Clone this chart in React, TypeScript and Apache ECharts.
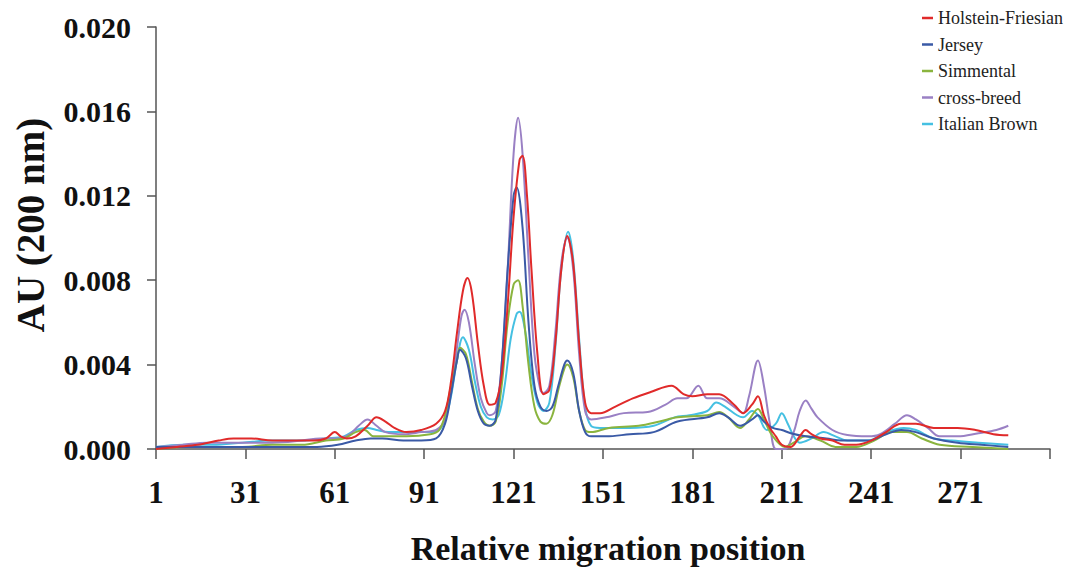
import React, { useEffect, useRef } from "react";
import * as echarts from "echarts";

const seriesNames = ["Holstein-Friesian", "Jersey", "Simmental", "cross-breed", "Italian Brown"];
const seriesColors = ["#e02a2a", "#3a5aa6", "#8ab43e", "#9a80c4", "#45c0e2"];

const yTicks = [0, 0.004, 0.008, 0.012, 0.016, 0.02];
const xTickStart = 1;
const xTickStep = 30;
const xEnd = 301;

const holstein: [number, number][] = [
  [1, 0.0], [8, 0.0001], [15, 0.0002], [22, 0.0004], [27, 0.0005], [33, 0.0005], [40, 0.0004], [48, 0.0004],
  [54, 0.0004], [58, 0.0005], [61, 0.0008], [63, 0.0006], [65, 0.0005], [68, 0.0006], [72, 0.0011], [75, 0.0015],
  [78, 0.0013], [81, 0.001], [85, 0.0008], [90, 0.0009], [95, 0.0012], [98, 0.0018], [100, 0.0032], [102, 0.0055],
  [104, 0.0075], [105.5, 0.0081], [107, 0.0074], [109, 0.005], [111, 0.003], [113, 0.0021], [115, 0.0022],
  [117, 0.0035], [119, 0.0068], [121, 0.011], [123, 0.0137], [124, 0.0139], [125.5, 0.012], [127, 0.0085],
  [129, 0.0045], [131, 0.0026], [133, 0.0028], [135, 0.005], [137, 0.0085], [139, 0.0101], [141, 0.0088],
  [143, 0.005], [145, 0.0022], [147, 0.0017], [150, 0.0017], [155, 0.002], [161, 0.0024], [167, 0.0027],
  [174, 0.003], [178, 0.0026], [181, 0.0025], [186, 0.0026], [190, 0.0026], [195, 0.0021], [198, 0.0017],
  [201, 0.0021], [203, 0.0025], [205, 0.0016], [207, 0.001], [209, 0.0006], [211, 0.0002], [214, 0.0001],
  [217, 0.0006], [219, 0.0009], [221, 0.0007], [224, 0.0005], [228, 0.0004], [232, 0.0002], [236, 0.0002],
  [241, 0.0004], [246, 0.0008], [251, 0.0012], [256, 0.0012], [262, 0.001], [270, 0.001], [276, 0.0009],
  [282, 0.0007], [287, 0.00065],
];

const jersey: [number, number][] = [
  [1, 0.0001], [15, 0.0001], [30, 0.0001], [45, 0.0001], [55, 0.0001], [62, 0.0002], [68, 0.0004], [73, 0.0005],
  [77, 0.0005], [84, 0.0004], [90, 0.0004], [95, 0.0005], [98, 0.0012], [100, 0.0026], [102, 0.0042],
  [103, 0.0047], [105, 0.0043], [107, 0.003], [109, 0.0018], [111, 0.0012], [113, 0.0011], [115, 0.0014],
  [117, 0.004], [119, 0.0085], [121, 0.012], [122, 0.0124], [124, 0.0105], [126, 0.006], [128, 0.003],
  [130, 0.002], [132, 0.0018], [134, 0.002], [136, 0.003], [138, 0.004], [139, 0.0042], [141, 0.0036],
  [143, 0.0018], [145, 0.0008], [147, 0.0006], [152, 0.0006], [160, 0.0007], [168, 0.0008], [176, 0.0013],
  [186, 0.0015], [190, 0.0017], [193, 0.0015], [197, 0.0011], [201, 0.0014], [203, 0.0016], [205, 0.0013],
  [208, 0.001], [211, 0.0009], [214, 0.00075], [219, 0.0006], [226, 0.0005], [231, 0.0004], [240, 0.0004],
  [246, 0.0007], [251, 0.0009], [256, 0.0008], [262, 0.0005], [270, 0.0003], [278, 0.0002], [287, 0.0001],
];

const simmental: [number, number][] = [
  [1, 0.0], [10, 0.0001], [20, 0.0001], [30, 0.0001], [40, 0.0002], [50, 0.0002], [58, 0.0004], [64, 0.0005],
  [68, 0.0008], [71, 0.0009], [74, 0.0006], [78, 0.0006], [85, 0.0006], [93, 0.0007], [96, 0.0009],
  [98, 0.0016], [100, 0.003], [102, 0.0042], [103, 0.0048], [105, 0.0045], [107, 0.0032], [109, 0.0019],
  [111, 0.0013], [113, 0.0011], [115, 0.0013], [117, 0.003], [119, 0.006], [121, 0.0078], [122.5, 0.008],
  [124, 0.0068], [126, 0.004], [128, 0.002], [130, 0.0013], [132, 0.0012], [134, 0.0016], [136, 0.0028],
  [138, 0.0038], [139, 0.004], [141, 0.0034], [143, 0.0018], [145, 0.0009], [147, 0.0008], [153, 0.001],
  [163, 0.0011], [170, 0.0013], [176, 0.0015], [186, 0.0016], [190, 0.00175], [193, 0.0015], [197, 0.001],
  [200, 0.0014], [203, 0.0019], [205, 0.0014], [208, 0.0006], [212, 0.0001], [215, 0.0003], [219, 0.0006],
  [224, 0.0004], [229, 0.0001], [236, 0.0001], [242, 0.0004], [248, 0.0008], [253, 0.0008], [258, 0.0005],
  [264, 0.0002], [275, 0.0001], [287, 0.0],
];

const crossBreed: [number, number][] = [
  [1, 0.0001], [10, 0.0002], [18, 0.0003], [30, 0.0003], [40, 0.0003], [50, 0.0004], [56, 0.0005],
  [62, 0.0005], [66, 0.0007], [69, 0.0011], [72, 0.0014], [75, 0.0011], [78, 0.0008], [84, 0.0007],
  [90, 0.0008], [95, 0.0009], [98, 0.0014], [100, 0.0028], [102, 0.0048], [103.5, 0.0063], [104.5, 0.0066],
  [106, 0.006], [108, 0.004], [110, 0.0024], [112, 0.0017], [113, 0.0016], [115, 0.0018], [117, 0.004],
  [119, 0.0085], [121, 0.014], [122.5, 0.0157], [124, 0.014], [126, 0.009], [128, 0.0045], [130, 0.0028],
  [131, 0.00265], [133, 0.003], [135, 0.0055], [137, 0.0088], [139, 0.01], [141, 0.0085], [143, 0.0045],
  [145, 0.0018], [147, 0.0014], [152, 0.0015], [158, 0.0017], [166, 0.00175], [172, 0.0021], [176, 0.0024],
  [179, 0.0024], [183, 0.003], [186, 0.0024], [190, 0.0024], [195, 0.002], [198, 0.0017], [200, 0.0025],
  [203, 0.0042], [205, 0.003], [207, 0.0012], [209, 0.0], [212, 0.0], [215, 0.0008], [217, 0.0018],
  [219, 0.0023], [221, 0.0019], [223, 0.0015], [228, 0.0009], [233, 0.00066], [240, 0.0006], [244, 0.0007],
  [249, 0.0012], [253, 0.0016], [256, 0.0014], [260, 0.001], [264, 0.0006], [270, 0.0006], [277, 0.00075],
  [283, 0.0009], [287, 0.0011],
];

const italianBrown: [number, number][] = [
  [1, 0.0001], [10, 0.0002], [20, 0.0002], [30, 0.0003], [40, 0.0004], [50, 0.0004], [58, 0.0005],
  [64, 0.0006], [68, 0.0009], [72, 0.001], [75, 0.0009], [79, 0.0008], [85, 0.0008], [93, 0.0008],
  [96, 0.0009], [98, 0.0014], [100, 0.0025], [102, 0.0042], [104, 0.0053], [106, 0.0047], [108, 0.0032],
  [110, 0.002], [112, 0.0015], [114, 0.0014], [116, 0.0016], [118, 0.003], [120, 0.0052], [122, 0.0064],
  [123, 0.0065], [125, 0.0055], [127, 0.0035], [129, 0.0022], [131, 0.0018], [133, 0.0022], [135, 0.0048],
  [137, 0.0085], [139.3, 0.0103], [141, 0.009], [143, 0.0052], [145, 0.002], [147, 0.0011], [150, 0.001],
  [160, 0.001], [168, 0.0011], [175, 0.0015], [180, 0.0016], [186, 0.0018], [189, 0.0022], [192, 0.002],
  [196, 0.0016], [198, 0.0015], [201, 0.0018], [203, 0.0016], [206, 0.0009], [209, 0.0012], [211, 0.0017],
  [213, 0.0012], [215, 0.0006], [217, 0.0003], [221, 0.0005], [225, 0.0008], [229, 0.0006], [233, 0.0004],
  [240, 0.0004], [246, 0.0008], [252, 0.001], [256, 0.0009], [262, 0.0005], [268, 0.0004], [277, 0.0003],
  [287, 0.0002],
];

const allSeries = [holstein, jersey, simmental, crossBreed, italianBrown];

const serif = "'Liberation Serif', 'Times New Roman', serif";

export default function App() {
  const ref = useRef<HTMLDivElement>(null);
  useEffect(() => {
    document.body.style.margin = "0";
    const chart = echarts.init(ref.current!, undefined, { renderer: "svg" });
    chart.setOption({
      animation: false,
      backgroundColor: "#ffffff",
      grid: { left: 156, right: 18, top: 27, bottom: 118, containLabel: false },
      legend: {
        data: seriesNames,
        orient: "vertical",
        left: 922,
        top: 8,
        padding: 0,
        icon: "rect",
        itemWidth: 11,
        itemHeight: 2.5,
        itemGap: 6.5,
        textStyle: { fontFamily: serif, fontSize: 18, color: "#222", lineHeight: 20 },
      },
      xAxis: {
        type: "value",
        min: 0,
        max: xEnd - xTickStart,
        interval: xTickStep,
        axisLine: { show: true, onZero: false, lineStyle: { color: "#555", width: 1.5 } },
        axisTick: { show: true, length: 10, lineStyle: { color: "#555", width: 1.5 } },
        splitLine: { show: false },
        axisLabel: {
          margin: 28,
          fontFamily: serif,
          fontWeight: "bold",
          fontSize: 31,
          color: "#111",
          formatter: (v: number) => (v + xTickStart >= xEnd ? "" : String(v + xTickStart)),
        },
      },
      yAxis: {
        type: "value",
        min: yTicks[0],
        max: yTicks[yTicks.length - 1],
        interval: yTicks[1] - yTicks[0],
        axisLine: { show: true, lineStyle: { color: "#555", width: 1.5 } },
        axisTick: { show: true, length: 9, lineStyle: { color: "#555", width: 1.5 } },
        splitLine: { show: false },
        axisLabel: {
          margin: 25,
          fontFamily: serif,
          fontWeight: "bold",
          fontSize: 30,
          color: "#111",
          formatter: (v: number) => v.toFixed(3),
        },
      },
      graphic: [
        {
          type: "text",
          x: 30,
          y: 225,
          rotation: Math.PI / 2,
          style: {
            text: "AU (200 nm)",
            font: `bold 39px ${serif}`,
            fill: "#111",
            textAlign: "center",
            textVerticalAlign: "middle",
          },
        },
        {
          type: "text",
          x: 608,
          y: 548,
          style: {
            text: "Relative migration position",
            font: `bold 34px ${serif}`,
            fill: "#111",
            textAlign: "center",
            textVerticalAlign: "middle",
          },
        },
      ],
      series: allSeries.map((pts, i) => ({
        name: seriesNames[i],
        type: "line",
        smooth: 0.35,
        symbol: "none",
        color: seriesColors[i],
        lineStyle: { width: 2, color: seriesColors[i] },
        data: pts.map(([p, v]) => [p - xTickStart, v]),
        z: 10 - i,
      })),
    });
    return () => chart.dispose();
  }, []);
  return <div ref={ref} style={{ width: 1068, height: 567 }} />;
}
